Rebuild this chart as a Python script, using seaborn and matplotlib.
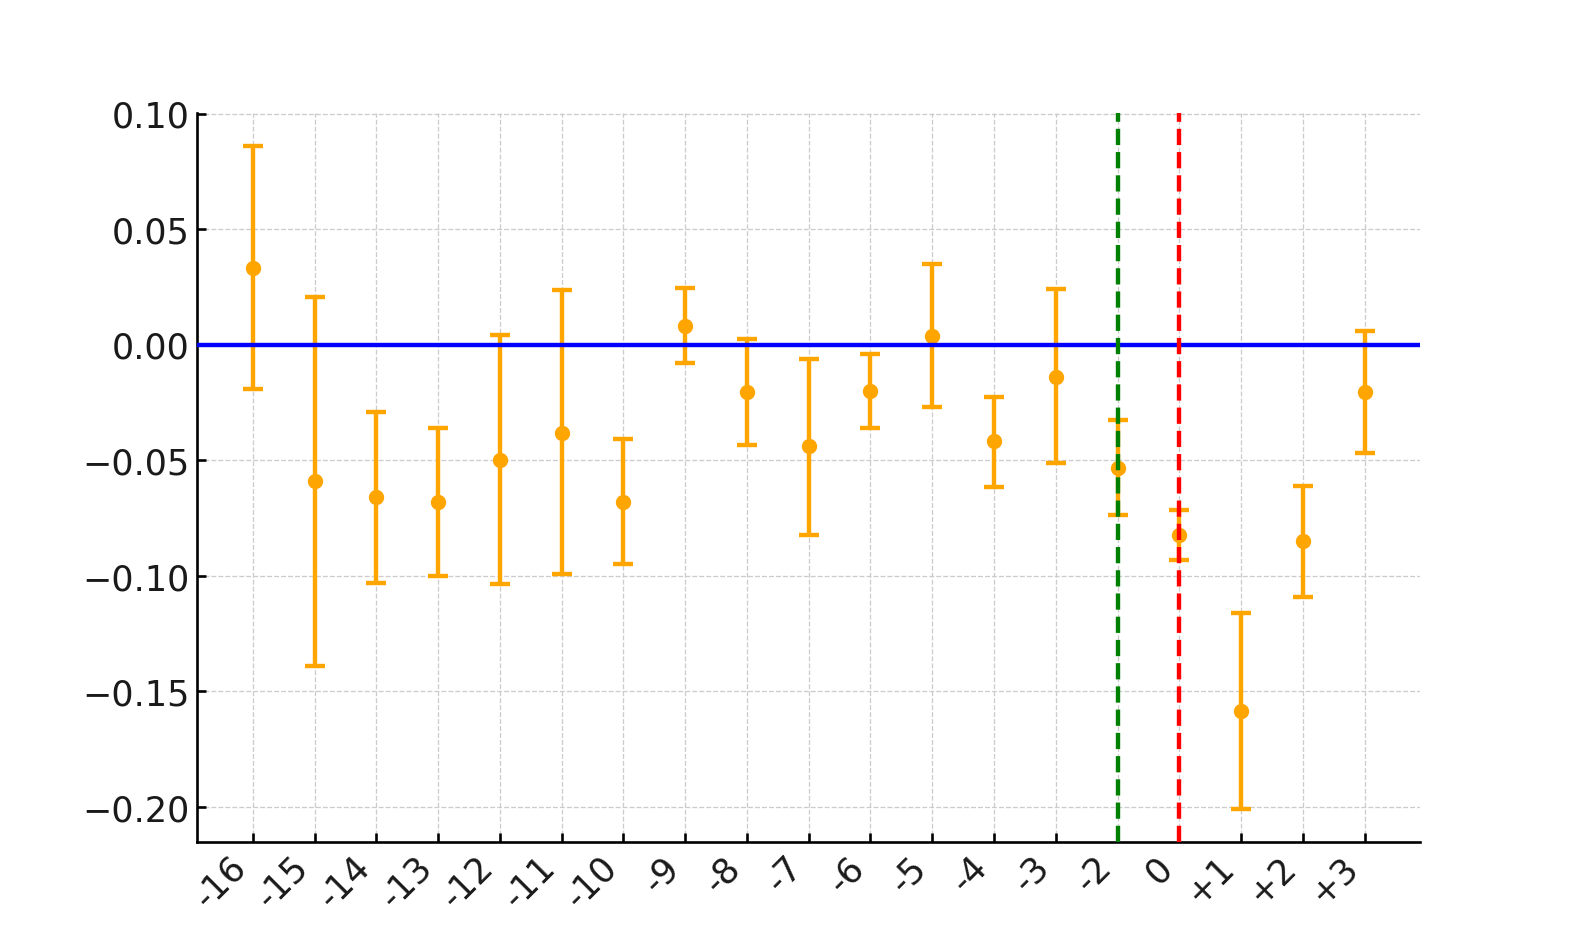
import matplotlib
matplotlib.use('Agg')
import matplotlib.pyplot as plt
import numpy as np
import seaborn as sns

# data
labels = ['-16', '-15', '-14', '-13', '-12', '-11', '-10', '-9', '-8', '-7',
          '-6', '-5', '-4', '-3', '-2', '0', '+1', '+2', '+3']
estimates = [0.033, -0.059, -0.066, -0.068, -0.0497, -0.038, -0.068, 0.0083,
             -0.0205, -0.044, -0.020, 0.0039, -0.0418, -0.0139, -0.0532,
             -0.0825, -0.1585, -0.0849, -0.0205]
ci_low = [-0.019, -0.139, -0.103, -0.100, -0.1037, -0.0993, -0.095, -0.0078,
          -0.0436, -0.0823, -0.036, -0.027, -0.0614, -0.0514, -0.0739,
          -0.0933, -0.2008, -0.1093, -0.047]
ci_high = [0.086, 0.0205, -0.029, -0.036, 0.0044, 0.0235, -0.041, 0.0244,
           0.0026, -0.0061, -0.0039, 0.0348, -0.0226, 0.024, -0.0328,
           -0.0717, -0.1159, -0.061, 0.0061]
ref_lines = {'-2': 'green', '0': 'red'}

sns.set_style('whitegrid', {'grid.linestyle': '--', 'grid.color': '#cccccc',
                            'axes.edgecolor': 'black',
                            'xtick.direction': 'in', 'ytick.direction': 'in',
                            'xtick.bottom': True, 'ytick.left': True})
plt.rcParams['font.family'] = ['DejaVu Sans']

fig, ax = plt.subplots(figsize=(10, 6), dpi=157.8)
x = np.arange(len(labels))
est = np.array(estimates)
yerr = [est - np.array(ci_low), np.array(ci_high) - est]

ax.errorbar(x, est, yerr=yerr, fmt='o', color='orange', ecolor='orange',
            elinewidth=2, capsize=4.5, capthick=2, markersize=6, zorder=2)
ax.axhline(0, color='blue', linewidth=2, zorder=3)
for lab, col in ref_lines.items():
    ax.axvline(labels.index(lab), color=col, linestyle='--', linewidth=2,
               zorder=3)

ax.set_xticks(x)
ax.set_xticklabels(labels, rotation=45, ha='right', fontsize=16,
                   color='#1a1a1a')
ax.set_yticks([0.10, 0.05, 0.00, -0.05, -0.10, -0.15, -0.20])
ax.tick_params(axis='y', labelsize=16, labelcolor='#1a1a1a')
ax.tick_params(length=4, width=1.2, color='black')
ax.grid(True, linewidth=0.6)
for side in ['top', 'right']:
    ax.spines[side].set_visible(False)
for side in ['left', 'bottom']:
    ax.spines[side].set_linewidth(1.2)
    ax.spines[side].set_color('black')
ax.set_axisbelow(True)

plt.savefig('out.png', dpi=157.8)
plt.close('all')
